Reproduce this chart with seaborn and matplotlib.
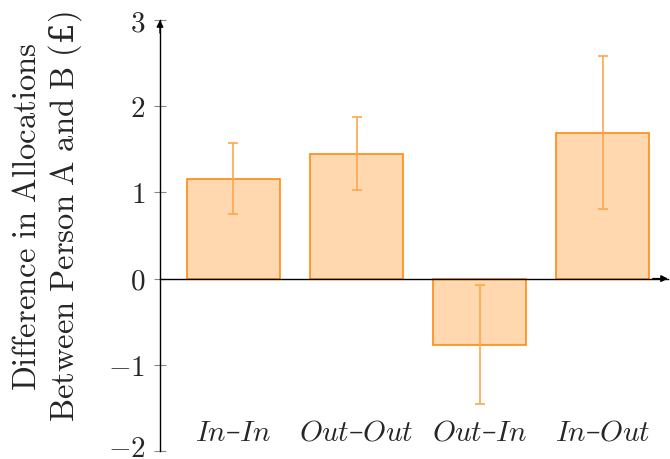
import matplotlib
matplotlib.use("Agg")
import matplotlib.pyplot as plt
import matplotlib.transforms as mtransforms
import seaborn as sns
import pandas as pd

categories = ["In", "Out", "Out", "In"]
categories2 = ["In", "Out", "In", "Out"]
values = [1.16, 1.45, -0.77, 1.69]
err_low = [0.75, 1.03, -1.46, 0.81]
err_high = [1.57, 1.88, -0.08, 2.58]
yticks = [-2, -1, 0, 1, 2, 3]

sns.set_theme(style="white")
plt.rcParams['font.family'] = ['DejaVu Serif']
plt.rcParams['mathtext.fontset'] = 'cm'

labels = [f"{a}–{b}" for a, b in zip(categories, categories2)]
df = pd.DataFrame({"cond": labels, "val": values})

W, H = 670, 459
fig = plt.figure(figsize=(W / 100, H / 100), dpi=100)
ax = fig.add_axes([160 / W, 8 / H, (668 - 160) / W, (451 - 20) / H])

edge = "#FF8A14"
fill = "#FFD8B0"
ecol = "#FFA64D"

sns.barplot(data=df, x="cond", y="val", ax=ax, width=0.756, color=fill,
            edgecolor=edge, linewidth=1.2, saturation=1)

xs = list(range(len(values)))
lo = [v - l for v, l in zip(values, err_low)]
hi = [h - v for v, h in zip(values, err_high)]
ax.errorbar(xs, values, yerr=[lo, hi], fmt="none", ecolor=ecol,
            elinewidth=1.2, capsize=3.8, capthick=1.2, zorder=5)

ax.set_xlim(-0.597, 3.53)
ax.set_ylim(-2, 3)
ax.set_xticks([])
ax.set_xlabel("")
ax.set_yticks(yticks)
ax.set_yticklabels([f"${t}$" if t >= 0 else f"$-{abs(t)}$" for t in yticks], fontsize=21)
ax.tick_params(axis="y", direction="inout", length=9, width=0.8, color="#888888",
               pad=6, left=True)
lab0 = ax.get_yticklabels()[0]
lab0.set_transform(lab0.get_transform() +
                   mtransforms.ScaledTranslation(0, 5 / 100, fig.dpi_scale_trans))

for s in ["top", "right"]:
    ax.spines[s].set_visible(False)
ax.spines["bottom"].set_position(("data", 0))
ax.spines["left"].set_color("black")
ax.spines["bottom"].set_color("black")
ax.spines["left"].set_linewidth(1.0)
ax.spines["bottom"].set_linewidth(1.0)

ax.annotate("", xy=(0, 1.0), xytext=(0, 0.97), xycoords="axes fraction",
            arrowprops=dict(arrowstyle="-|>", color="black", lw=1.0,
                            mutation_scale=10, shrinkA=0, shrinkB=0))
ax.annotate("", xy=(1.0, 0.4), xytext=(0.97, 0.4), xycoords="axes fraction",
            arrowprops=dict(arrowstyle="-|>", color="black", lw=1.0,
                            mutation_scale=10, shrinkA=0, shrinkB=0))

for x, a, b in zip(xs, categories, categories2):
    ax.text(x, -1.79, f"$\\mathit{{{a}}}$–$\\mathit{{{b}}}$", ha="center", va="center",
            fontsize=21)

ylab = (r"$\mathrm{Difference\ in\ Allocations}$" + "\n" +
        r"$\mathrm{Between\ Person\ A\ and\ B\ (}$£$\mathrm{)}$")
ax.set_ylabel(ylab, fontsize=23.5, linespacing=1.1)
ax.yaxis.set_label_coords(-0.15, 0.543)

fig.savefig("out.png", dpi=100)
